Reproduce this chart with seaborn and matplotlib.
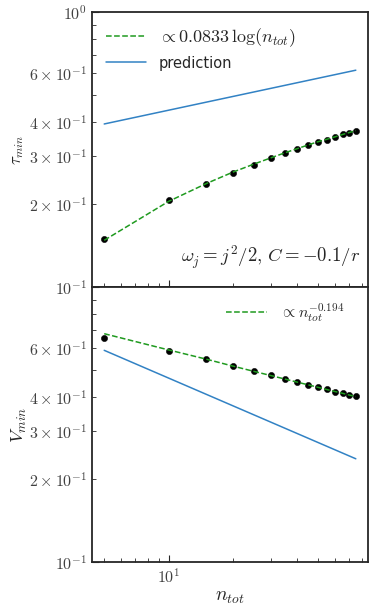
import numpy as np
import pandas as pd
import seaborn as sns
import matplotlib.pyplot as plt
from matplotlib.ticker import FuncFormatter

# data
n_tot = [5, 10, 15, 20, 25, 30, 35, 40, 45, 50, 55, 60, 65, 70, 75]
tau_min = [0.150, 0.207, 0.238, 0.261, 0.279, 0.294, 0.308, 0.319,
           0.328, 0.338, 0.344, 0.352, 0.359, 0.364, 0.370]
tau_fit = [0.148, 0.205, 0.238, 0.262, 0.280, 0.295, 0.308, 0.319,
           0.329, 0.338, 0.345, 0.352, 0.359, 0.365, 0.371]
v_min = [0.651, 0.587, 0.546, 0.517, 0.495, 0.478, 0.463, 0.451,
         0.441, 0.432, 0.425, 0.417, 0.412, 0.406, 0.401]
v_fit = [0.677, 0.591, 0.547, 0.516, 0.494, 0.477, 0.463, 0.451,
         0.441, 0.432, 0.424, 0.417, 0.411, 0.405, 0.400]
pred_n = [5, 75]
tau_pred = [0.392, 0.615]
v_pred = [0.589, 0.2375]

df = pd.DataFrame({"n": n_tot, "tau": tau_min, "tau_fit": tau_fit,
                   "v": v_min, "v_fit": v_fit})
pred = pd.DataFrame({"n": pred_n, "tau": tau_pred, "v": v_pred})

sns.set_style("ticks")
plt.rcParams["mathtext.fontset"] = "cm"
plt.rcParams["font.family"] = ["DejaVu Sans"]
plt.rcParams["xtick.direction"] = "in"
plt.rcParams["ytick.direction"] = "in"


def log_label(v, pos, minors=(2, 3, 4, 6)):
    # computer modern labels like the old log formatter
    if v <= 0:
        return ""
    e = int(np.floor(np.log10(v) + 1e-9))
    m = v / 10 ** e
    if abs(m - 1) < 1e-6:
        return r"$10^{%d}$" % e
    mi = int(round(m))
    if abs(m - mi) < 1e-6 and mi in minors:
        return r"$%d\times10^{%d}$" % (mi, e)
    return ""


fig, (ax1, ax2) = plt.subplots(2, 1, figsize=(3.74, 6.07), dpi=100, sharex=True)
fig.subplots_adjust(left=0.245, right=0.985, top=0.98, bottom=0.074, hspace=0)

green = "#1f9a1f"
blue = "#3282c4"

# top panel
sns.scatterplot(data=df, x="n", y="tau", ax=ax1, color="black", s=20,
                edgecolor="black", zorder=2)
sns.lineplot(data=df, x="n", y="tau_fit", ax=ax1, color=green, lw=1.1,
             linestyle="--", label=r"$\propto 0.0833\,\log(n_{tot})$", zorder=3)
sns.lineplot(data=pred, x="n", y="tau", ax=ax1, color=blue, lw=1.1, label="prediction")
ax1.text(0.97, 0.06, r"$\omega_j = j^2/2,\, C = -0.1/r$", transform=ax1.transAxes,
         ha="right", va="bottom", fontsize=13.5)
ax1.set_ylabel(r"$\tau_{min}$", fontsize=12, labelpad=2)
leg = ax1.legend(loc="upper left", frameon=False, fontsize=13, handlelength=2.2,
                 handletextpad=0.7, labelspacing=0.35, borderaxespad=0.4)
leg.get_texts()[1].set_fontsize(10.5)

# bottom panel
sns.scatterplot(data=df, x="n", y="v", ax=ax2, color="black", s=20,
                edgecolor="black", zorder=2)
sns.lineplot(data=df, x="n", y="v_fit", ax=ax2, color=green, lw=1.1,
             linestyle="--", label=r"$\propto n_{tot}^{-0.194}$", zorder=3)
sns.lineplot(data=pred, x="n", y="v", ax=ax2, color=blue, lw=1.1, legend=False)
ax2.set_ylabel(r"$V_{min}$", fontsize=13.5, labelpad=0)
ax2.set_xlabel(r"$n_{tot}$", fontsize=14, labelpad=1)
ax2.legend(loc="upper right", bbox_to_anchor=(0.965, 1.0), frameon=False,
           fontsize=11.5, handlelength=2.6)

for ax in (ax1, ax2):
    ax.set_xscale("log")
    ax.set_yscale("log")
    ax.set_ylim(0.1, 1)
    ax.yaxis.set_major_formatter(FuncFormatter(log_label))
    ax.yaxis.set_minor_formatter(FuncFormatter(log_label))
    ax.tick_params(which="both", labelsize=11.5, right=False, top=False,
                   labelcolor="0.25")
    ax.tick_params(which="major", length=5)
    ax.tick_params(which="minor", length=3)
    for s in ax.spines.values():
        s.set_linewidth(1.3)
ax2.xaxis.set_major_formatter(FuncFormatter(log_label))
ax2.xaxis.set_minor_formatter(FuncFormatter(lambda v, p: ""))
ax1.set_xlabel("")

# hide the 10^0 label of the lower panel, it sits on the upper panel's 10^-1
fig.canvas.draw()
for lab in ax2.get_yticklabels():
    if lab.get_position()[1] >= 0.999:
        lab.set_visible(False)

fig.savefig("out.png", dpi=100)
